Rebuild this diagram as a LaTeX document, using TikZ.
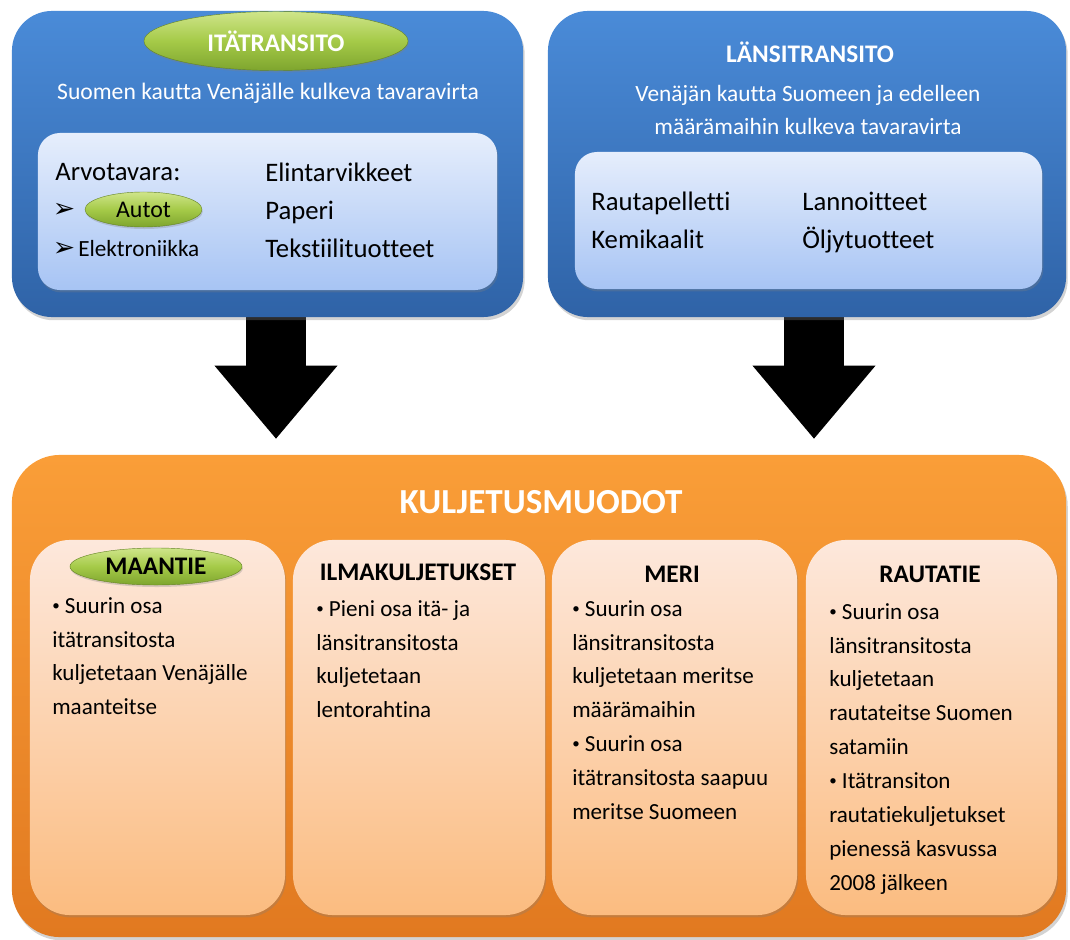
\documentclass[tikz,border=0pt]{standalone}
\usepackage{fontspec}
\setmainfont[Ligatures=NoCommon]{Carlito}
\newfontfamily\dingfont{DejaVu Sans}
\usetikzlibrary{shapes.geometric,arrows.meta,shadows}

\definecolor{bluetop}{HTML}{4A8BD8}
\definecolor{bluebot}{HTML}{2F63A7}
\definecolor{palebluetop}{HTML}{E6EEFC}
\definecolor{palebluebot}{HTML}{A7C4F4}
\definecolor{orangetop}{HTML}{FA9E38}
\definecolor{orangebot}{HTML}{E17920}
\definecolor{peachtop}{HTML}{FDE8DC}
\definecolor{peachbot}{HTML}{FBBC80}
\definecolor{greentop}{HTML}{CFE58A}
\definecolor{greenmid}{HTML}{A5CA48}
\definecolor{greenbot}{HTML}{7EA52E}

\newcommand{\smalldot}{\raisebox{0.12em}{\scalebox{0.65}{•}}}

\begin{document}
\begin{tikzpicture}[x=0.025cm,y=-0.025cm,
  bluebox/.style={rectangle,rounded corners=1cm,inner sep=0pt,top color=bluetop,bottom color=bluebot,
    drop shadow={opacity=0.35,shadow xshift=0.04cm,shadow yshift=-0.08cm}},
  palebox/.style={rectangle,rounded corners=0.55cm,inner sep=0pt,top color=palebluetop,bottom color=palebluebot,
    drop shadow={opacity=0.3,shadow xshift=0.03cm,shadow yshift=-0.06cm}},
  orangebox/.style={rectangle,rounded corners=1.2cm,inner sep=0pt,top color=orangetop,bottom color=orangebot,
    drop shadow={opacity=0.35,shadow xshift=0.04cm,shadow yshift=-0.08cm}},
  peachbox/.style={rectangle,rounded corners=1cm,inner sep=0pt,top color=peachtop,bottom color=peachbot,
    minimum height=9.375cm,drop shadow={opacity=0.3,shadow xshift=0.03cm,shadow yshift=-0.06cm}},
  pill/.style={ellipse,inner sep=0pt,top color=greentop,bottom color=greenbot,middle color=greenmid,
    draw=greenbot!80!black,line width=0.3pt,drop shadow={opacity=0.3,shadow xshift=0.02cm,shadow yshift=-0.05cm}},
  headline/.style={font=\fontsize{18}{22}\selectfont\bfseries,inner sep=0pt},
  itemtext/.style={font=\fontsize{19}{26.9}\selectfont,align=left,inner sep=0pt},
  bodytext/.style={font=\fontsize{16.4}{24.1}\selectfont,align=left,inner sep=0pt,anchor=north west},
  arrowbullet/.style={font=\dingfont\fontsize{19}{20}\selectfont,inner sep=0pt},
  bigarrow/.style={line width=1.5cm,-{Triangle[width=3.075cm,length=1.825cm,line width=0pt]},shorten >=0.4cm}]
\useasboundingbox (0,0) rectangle (1070,939);

% kuljetusmuodot
\path
(539,696) node[orangebox,minimum width=26.35cm,minimum height=12.05cm] (kulj) {}
(157.5,727.5) node[peachbox,minimum width=6.375cm] (maantie) {}
(419,727.5) node[peachbox,minimum width=6.3cm] (ilma) {}
(674.5,727.5) node[peachbox,minimum width=6.125cm] (meri) {}
(931.5,727.5) node[peachbox,minimum width=6.275cm] (rauta) {}
;
\node[headline,font=\fontsize{25}{30}\selectfont\bfseries,text=white,anchor=base] (kuljtitle) at (541,513) {KULJETUSMUODOT};
\node[pill,minimum width=4.3cm,minimum height=0.925cm] (maantiepill) at (156,566.5) {};
\node[headline] (maantiehead) at (maantiepill) {MAANTIE};
\node[headline,anchor=base] (ilmahead) at (418,580) {ILMAKULJETUKSET};
\node[headline,anchor=base] (merihead) at (672,582) {MERI};
\node[headline,anchor=base] (rautahead) at (930,582) {RAUTATIE};

\node[bodytext] (maantietext) at (52,597) {\smalldot{} Suurin osa\\itätransitosta\\kuljetetaan Venäjälle\\maanteitse};
\node[bodytext] (ilmatext) at (316,600) {\smalldot{} Pieni osa itä- ja\\länsitransitosta\\kuljetetaan\\lentorahtina};
\node[bodytext] (meritext) at (572,600) {\smalldot{} Suurin osa\\länsitransitosta\\kuljetetaan meritse\\määrämaihin\\\smalldot{} Suurin osa\\itätransitosta saapuu\\meritse Suomeen};
\node[bodytext] (rautatext) at (829,603) {\smalldot{} Suurin osa\\länsitransitosta\\kuljetetaan\\rautateitse Suomen\\satamiin\\\smalldot{} Itätransiton\\rautatiekuljetukset\\pienessä kasvussa\\2008 jälkeen};

% arrows behind the blue boxes
\coordinate (itaout) at (276,300);
\coordinate (lansiout) at (814,300);
\draw[bigarrow] (itaout) -- (itaout |- kulj.north);
\draw[bigarrow] (lansiout) -- (lansiout |- kulj.north);

% itatransito
\path
(267.5,164) node[bluebox,minimum width=12.775cm,minimum height=7.65cm] (itabox) {}
(267.5,211.5) node[palebox,minimum width=11.475cm,minimum height=3.925cm] (itainner) {}
;
\node[pill,minimum width=6.6cm,minimum height=1.475cm] (itapill) at (276,41) {};
\node[headline,text=white] (itatitle) at (itapill) {ITÄTRANSITO};
\node[font=\fontsize{16.8}{20}\selectfont,text=white,anchor=base,inner sep=0pt] (itasub) at (268,100) {Suomen kautta Venäjälle kulkeva tavaravirta};
\node[itemtext,anchor=base west] (arvo) at (55,181) {Arvotavara:};
\node[arrowbullet] (bullet1) at (64,210) {➢};
\node[arrowbullet] (bullet2) at (64,249) {➢};
\node[pill,minimum width=2.925cm,minimum height=0.875cm] (autopill) at (143.5,209.5) {};
\node[font=\fontsize{17}{20}\selectfont,inner sep=0pt] (autot) at (autopill) {Autot};
\node[font=\fontsize{16.5}{20}\selectfont,inner sep=0pt,anchor=base west] (elektro) at (78,256.5) {Elektroniikka};
\node[itemtext,anchor=north west] (itacol) at (265,163) {Elintarvikkeet\\Paperi\\Tekstiilituotteet};

% lansitransito
\path
(807,164) node[bluebox,minimum width=12.95cm,minimum height=7.65cm] (lansibox) {}
(808.5,220.5) node[palebox,minimum width=11.675cm,minimum height=3.425cm] (lansiinner) {}
;
\node[headline,text=white,anchor=base] (lansititle) at (810,63) {LÄNSITRANSITO};
\node[font=\fontsize{16.6}{23.4}\selectfont,text=white,align=center,anchor=north,inner sep=0pt] (lansisub) at (808,85) {Venäjän kautta Suomeen ja edelleen\\määrämaihin kulkeva tavaravirta};
\node[itemtext,anchor=north west] (lansicolA) at (591,192) {Rautapelletti\\Kemikaalit};
\node[itemtext,anchor=north west] (lansicolB) at (802,192) {Lannoitteet\\Öljytuotteet};
\end{tikzpicture}
\end{document}
